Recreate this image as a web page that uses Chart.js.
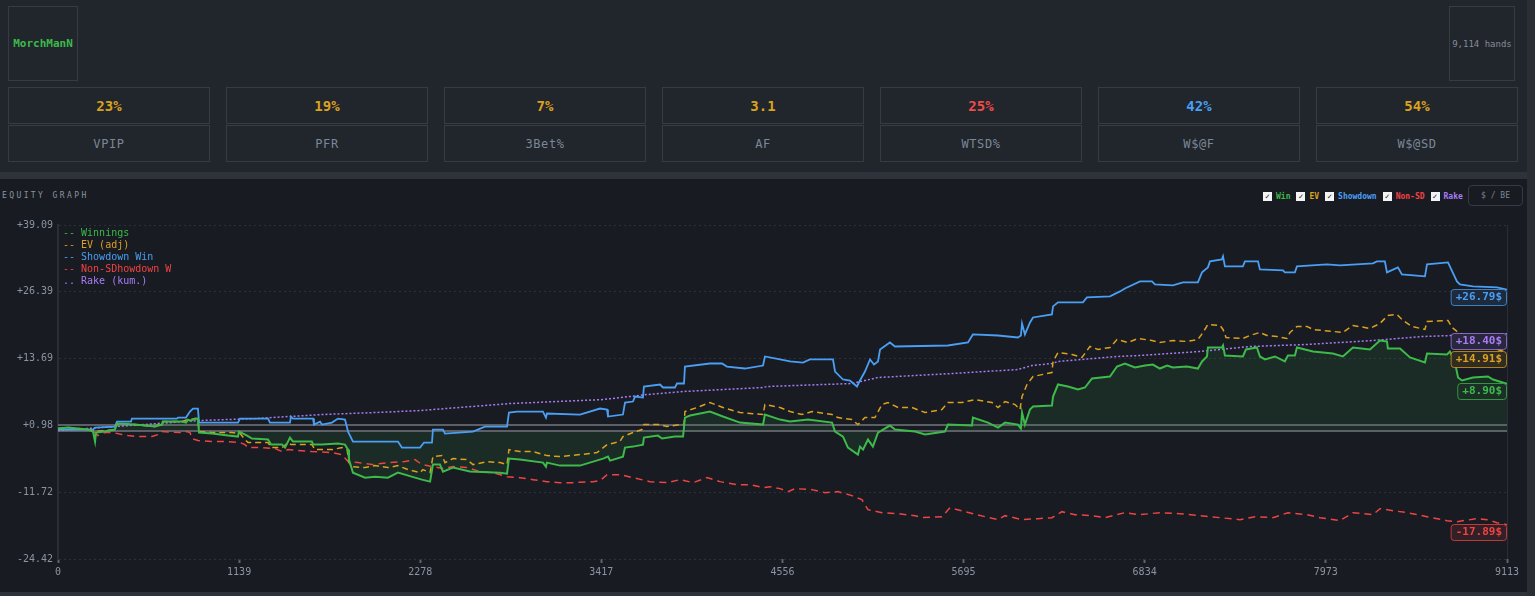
<!DOCTYPE html>
<html>
<head>
<meta charset="utf-8">
<script src="https://cdn.jsdelivr.net/npm/chart.js@4.4.1/dist/chart.umd.min.js"></script>
<style>
  html, body { margin:0; padding:0; }
  body { width:1535px; height:596px; background:#2a2e35; position:relative; overflow:hidden; font-family:"DejaVu Sans Mono", monospace; }
  #header { position:absolute; left:0; top:0; width:1527px; height:172px; background:#21252c; }
  #sep { position:absolute; left:0; top:172px; width:1527px; height:7px; background:#2e323a; }
  #panel { position:absolute; left:0; top:179px; width:1527px; height:413px; background:#181b21; }
  #bottom { position:absolute; left:0; top:592px; width:1527px; height:4px; background:#2e323a; }
  .box { position:absolute; box-sizing:border-box; border:1px solid #363b44; display:flex; align-items:center; justify-content:center; }
  #name { left:8px; top:6px; width:70px; height:75px; color:#3dba4a; font-size:11px; font-weight:bold; }
  #hands { left:1449px; top:6px; width:66px; height:75px; color:#858d98; font-size:9px; }
  .val { font-size:14px; font-weight:bold; }
  .lab { font-size:12px; color:#7b8796; letter-spacing:0.6px; }
  #title { position:absolute; left:2px; top:191px; font-size:8px; letter-spacing:2.4px; color:#8a93a0; }
  #checks { position:absolute; top:190px; left:1263px; height:12px; display:flex; align-items:center; font-size:8px; font-weight:bold; }
  .cb { display:inline-block; width:9px; height:9px; background:#f4f4f4; color:#111; font-size:8px; line-height:9px; text-align:center; margin-right:4px; }
  .cl { margin-right:6px; }
  #unit { position:absolute; left:1468px; top:185px; width:55px; height:21px; box-sizing:border-box; border:1px solid #353a43; border-radius:4px; color:#7d8591; font-size:8px; display:flex; align-items:center; justify-content:center; }
  #chartWrap { position:absolute; left:0; top:179px; width:1527px; height:413px; }
  #legend { position:absolute; left:63px; top:227px; font-size:10px; line-height:12px; white-space:pre; }
</style>
</head>
<body>
<div id="header"></div>
<div id="sep"></div>
<div id="panel"></div>
<div id="bottom"></div>
<div class="box" id="name">MorchManN</div>
<div class="box" id="hands">9,114 hands</div>
<div id="stats"></div>
<div id="title">EQUITY GRAPH</div>
<div id="checks"></div>
<div id="unit">$ / BE</div>
<div id="chartWrap"><canvas id="c"></canvas></div>
<div id="legend"></div>

<script>
// ---------- header stats ----------
const statLabels = ["VPIP", "PFR", "3Bet%", "AF", "WTSD%", "W$@F", "W$@SD"];
const statValues = ["23%", "19%", "7%", "3.1", "25%", "42%", "54%"];
const statColors = ["#dba11f", "#dba11f", "#dba11f", "#dba11f", "#ef4b4b", "#4a9ff5", "#dba11f"];

// ---------- series colours / names ----------
const seriesNames = ["Winnings", "EV (adj)", "Showdown Win", "Non-SDhowdown W", "Rake (kum.)"];
const seriesPrefix = ["--", "--", "--", "--", ".."];
const seriesColors = ["#3dba4a", "#dba11f", "#4a9ff5", "#ef4444", "#a77cf5"];
const checkLabels = ["Win", "EV", "Showdown", "Non-SD", "Rake"];

// ---------- axis ticks ----------
const xTicks = [0, 1139, 2278, 3417, 4556, 5695, 6834, 7973, 9113];
const yTicks = [-24.42, -11.72, 0.98, 13.69, 26.39, 39.09];
const refLineValues = [0, 0.98];

// ---------- data (hand number, $) ----------
const winHands = [0,63,189,220,233,239,296,358,371,484,610,654,660,780,805,818,836,862,880,887,968,1069,1132,1138,1189,1220,1321,1340,1409,1428,1459,1478,1597,1604,1660,1761,1805,1824,1830,1855,1931,1994,2075,2138,2245,2289,2340,2358,2402,2421,2484,2591,2780,2824,2836,2905,3050,3069,3075,3157,3283,3428,3459,3472,3553,3566,3616,3679,3685,3773,3799,3880,3931,3943,3975,4100,4182,4289,4434,4446,4541,4604,4717,4868,4887,4937,4968,5031,5044,5063,5094,5125,5157,5232,5264,5390,5453,5578,5597,5748,5754,5849,5912,5956,6037,6056,6063,6081,6113,6132,6251,6258,6289,6352,6415,6459,6503,6616,6660,6710,6773,6836,6886,6930,6975,7012,7100,7169,7195,7226,7232,7320,7327,7339,7452,7471,7540,7559,7591,7654,7716,7735,7779,7792,7893,8018,8081,8144,8251,8314,8358,8364,8440,8503,8597,8610,8736,8754,8786,8805,8830,8899,8993,9025,9113];
const winValues = [0.38,0.57,0.19,-0.19,-2.09,-0.38,-0.19,0.19,1.33,1.14,0.76,1.14,1.71,1.71,1.52,2.09,1.90,2.28,2.28,-0.38,-0.57,-0.95,-1.14,-0.19,-0.95,-1.52,-1.71,-2.67,-2.67,-3.24,-1.33,-2.09,-2.09,-2.67,-2.67,-2.47,-2.67,-3.62,-5.52,-8.00,-8.95,-8.76,-8.95,-8.00,-8.95,-9.33,-9.71,-6.47,-6.47,-7.80,-7.04,-7.80,-8.00,-8.19,-5.33,-5.52,-6.09,-6.85,-6.09,-6.66,-6.66,-5.33,-4.95,-5.71,-4.95,-3.24,-3.05,-2.67,-1.33,-0.95,-1.52,-1.14,-1.14,2.47,2.86,3.62,2.67,1.52,1.14,3.05,2.09,1.71,2.09,1.52,-0.19,-1.14,-3.24,-4.57,-3.05,-3.62,-1.71,-3.05,-0.38,0.95,0.19,-0.19,-0.76,-0.19,1.14,0.95,2.47,1.52,0.57,1.52,1.14,0.38,3.43,1.14,4.00,4.57,4.76,6.47,8.76,8.38,7.80,8.19,9.90,10.28,12.18,12.75,11.99,12.37,12.56,11.80,12.37,11.99,12.18,11.80,13.14,14.09,15.80,15.80,16.18,14.28,14.09,15.42,15.80,14.09,13.52,14.09,13.14,14.28,14.28,15.80,15.04,14.66,14.09,15.80,15.42,17.13,16.94,15.61,15.61,13.90,12.94,14.66,14.47,15.04,12.94,10.09,9.52,10.09,10.28,9.71,8.90];

const evHands = [0,63,189,233,358,371,484,610,660,780,818,880,887,968,1094,1145,1176,1195,1321,1340,1409,1447,1465,1597,1616,1723,1786,1818,1830,1849,1931,1994,2075,2138,2201,2277,2295,2340,2358,2415,2434,2484,2572,2610,2698,2780,2824,2836,2905,2987,3075,3157,3283,3390,3453,3534,3553,3616,3673,3685,3786,3830,3912,3937,3943,4019,4100,4182,4289,4434,4446,4541,4604,4679,4742,4868,4905,4993,5031,5075,5138,5182,5220,5283,5371,5453,5559,5597,5685,5767,5874,5912,5956,6019,6050,6063,6094,6132,6251,6258,6289,6377,6440,6490,6541,6616,6660,6729,6792,6880,6930,7012,7100,7169,7201,7232,7308,7327,7346,7452,7496,7559,7603,7666,7729,7748,7792,7855,7893,8018,8081,8144,8251,8314,8364,8421,8459,8515,8597,8610,8742,8767,8798,8899,9050,9113];
const evValues = [0.38,0.57,0.19,-0.20,0.19,1.33,1.14,0.76,1.71,1.71,2.09,2.28,-0.19,-0.38,-0.38,-0.57,-1.71,-2.28,-2.28,-3.24,-3.24,-2.28,-2.67,-2.67,-3.62,-3.62,-3.24,-3.62,-6.09,-6.85,-7.04,-6.66,-7.04,-6.66,-7.42,-8.00,-7.42,-8.00,-4.95,-4.76,-6.09,-5.33,-5.52,-6.47,-5.90,-6.09,-6.47,-3.62,-4.00,-4.00,-4.76,-4.95,-4.57,-4.19,-2.67,-2.09,-1.14,-0.38,0.19,1.14,1.14,0.76,1.14,1.14,3.62,4.38,5.33,4.38,3.43,3.05,4.95,4.38,3.62,3.05,3.62,3.05,2.47,2.09,1.14,2.47,2.47,4.95,5.33,4.38,4.38,3.43,4.00,5.33,5.33,5.90,5.33,4.38,5.52,4.95,4.00,6.47,8.76,10.28,11.04,13.14,14.85,14.47,13.90,15.99,15.42,15.80,17.32,16.75,17.51,17.13,16.75,17.13,16.94,17.32,18.66,20.18,19.99,19.23,17.70,17.51,18.08,18.66,18.08,17.89,17.51,18.66,19.80,19.80,19.23,18.85,18.66,19.99,19.42,20.37,21.89,22.08,20.94,19.80,19.23,20.75,20.94,19.61,18.85,17.32,15.42,14.91];

const sdHands = [0,220,233,358,371,459,465,748,755,805,830,849,880,887,1132,1145,1321,1333,1459,1465,1478,1604,1610,1648,1660,1723,1761,1805,1824,1855,2138,2163,2277,2302,2352,2358,2421,2434,2610,2685,2824,2836,2887,3050,3069,3075,3283,3409,3453,3459,3553,3566,3616,3629,3679,3685,3786,3805,3880,3893,3937,3943,4100,4176,4207,4320,4434,4446,4541,4604,4685,4729,4874,4887,4937,4981,5025,5037,5075,5107,5132,5157,5170,5232,5264,5597,5723,5754,5912,6037,6056,6063,6081,6113,6132,6251,6258,6289,6446,6471,6616,6679,6710,6805,6880,6899,7012,7075,7169,7195,7232,7245,7320,7327,7339,7452,7465,7547,7559,7704,7716,7779,7792,7981,8062,8270,8295,8345,8358,8427,8452,8597,8610,8742,8798,8817,8899,9050,9113];
const sdValues = [0.19,0.19,0.57,0.76,1.71,1.71,2.28,2.28,2.47,2.47,3.62,4.19,4.19,1.52,1.52,2.28,2.28,1.52,1.52,2.67,2.28,2.28,1.14,1.71,1.14,1.52,2.28,2.09,-0.19,-2.09,-2.09,-3.24,-3.24,-2.28,-2.28,0.19,0.19,-0.57,-0.19,0.76,0.76,3.43,3.62,3.62,2.47,3.24,3.05,4.19,4.00,2.67,3.05,5.33,5.52,6.47,6.28,8.38,8.76,8.19,8.19,8.95,8.95,12.18,12.75,12.75,12.18,11.80,12.37,14.09,13.52,13.14,12.94,13.52,13.52,11.23,9.71,9.52,8.38,9.14,11.23,13.52,12.56,13.14,15.42,16.75,15.99,16.18,16.75,18.28,18.08,17.70,18.08,20.37,18.28,20.56,21.51,22.08,23.61,24.37,24.37,25.32,25.51,26.46,27.03,28.36,28.36,27.79,27.60,28.17,28.17,30.08,31.03,32.17,32.55,33.12,31.22,31.22,32.17,32.17,30.65,30.46,30.08,30.08,31.22,31.60,31.41,31.79,32.17,32.17,30.08,31.03,29.70,29.32,31.60,31.98,28.36,27.79,27.41,27.22,26.79];

const nsdHands = [0,189,233,252,296,346,402,440,503,591,629,654,780,811,830,843,880,968,1069,1145,1176,1195,1283,1365,1409,1447,1597,1723,1786,1824,1887,1975,2075,2182,2245,2289,2421,2484,2572,2654,2736,2824,2905,2987,3075,3157,3239,3365,3409,3453,3534,3616,3723,3830,3912,3994,4082,4163,4270,4352,4434,4478,4541,4591,4635,4742,4824,4905,4993,5056,5094,5182,5283,5390,5434,5559,5610,5704,5830,5912,5956,6063,6163,6251,6314,6396,6503,6585,6710,6805,6930,7056,7182,7308,7434,7528,7641,7735,7855,7937,8062,8144,8270,8314,8396,8484,8610,8736,8798,8924,8987,9050,9113];
const nsdValues = [0.19,0.19,-0.38,-0.95,-0.38,-0.38,-0.76,-0.95,-1.14,-1.14,-0.76,-0.19,-0.38,-0.19,-0.38,-1.52,-1.90,-2.09,-2.09,-2.28,-2.67,-3.24,-3.24,-3.43,-4.00,-3.62,-4.00,-4.19,-4.57,-5.90,-6.09,-6.47,-6.09,-5.90,-5.52,-6.47,-7.23,-6.85,-7.04,-7.80,-8.00,-8.76,-8.95,-9.33,-9.71,-9.90,-9.90,-9.71,-9.52,-8.38,-8.38,-8.95,-9.71,-9.90,-9.33,-9.90,-8.95,-9.71,-10.28,-10.28,-10.85,-10.66,-11.04,-11.61,-11.04,-11.23,-11.80,-11.61,-12.37,-13.14,-15.04,-15.61,-15.80,-16.18,-16.56,-16.37,-14.66,-15.42,-16.37,-16.94,-16.18,-16.94,-16.75,-16.56,-15.42,-15.99,-16.18,-16.56,-15.61,-15.99,-15.61,-15.80,-16.18,-16.56,-16.94,-16.37,-16.56,-15.61,-15.99,-16.56,-17.13,-15.61,-15.99,-14.85,-15.23,-15.61,-16.37,-17.13,-17.32,-16.75,-16.94,-17.51,-17.89];

const rakeHands = [0,264,535,880,1239,1660,1994,2277,2843,3428,3704,3931,4434,4459,4993,5157,5622,6037,6125,6251,6289,6666,6805,7182,7496,7855,8270,8584,8773,9113];
const rakeValues = [0,0.57,1.14,1.90,2.28,3.05,3.43,3.81,5.14,5.90,6.85,7.42,8.19,8.38,8.95,10.09,10.85,11.61,12.37,12.75,13.14,14.09,14.28,15.04,15.99,16.37,17.13,17.89,18.08,18.40];

// ---------- build header ----------
const statsEl = document.getElementById('stats');
statLabels.forEach((lab, i) => {
  const left = 8 + i * 218;
  const v = document.createElement('div');
  v.className = 'box val';
  v.style.cssText = `left:${left}px;top:87px;width:202px;height:37px;color:${statColors[i]}`;
  v.textContent = statValues[i];
  statsEl.appendChild(v);
  const l = document.createElement('div');
  l.className = 'box lab';
  l.style.cssText = `left:${left}px;top:125px;width:202px;height:37px;`;
  l.textContent = lab;
  statsEl.appendChild(l);
});

const checksEl = document.getElementById('checks');
checkLabels.forEach((t, i) => {
  const b = document.createElement('span'); b.className = 'cb'; b.textContent = '\u2713';
  const s = document.createElement('span'); s.className = 'cl'; s.textContent = t; s.style.color = seriesColors[i];
  checksEl.appendChild(b); checksEl.appendChild(s);
});

const legendEl = document.getElementById('legend');
seriesNames.forEach((n, i) => {
  const d = document.createElement('div');
  d.style.color = seriesColors[i];
  d.textContent = seriesPrefix[i] + ' ' + n;
  legendEl.appendChild(d);
});

// ---------- chart ----------
const toPts = (h, v) => h.map((x, i) => ({ x: x, y: v[i] }));

const refLines = {
  id: 'refLines',
  beforeDatasetsDraw(chart) {
    const { ctx, chartArea, scales: { y } } = chart;
    ctx.save();
    ctx.strokeStyle = '#5b5f66';
    ctx.lineWidth = 2;
    refLineValues.forEach(v => {
      const py = Math.round(y.getPixelForValue(v));
      ctx.beginPath(); ctx.moveTo(chartArea.left, py); ctx.lineTo(chartArea.right, py); ctx.stroke();
    });
    ctx.strokeStyle = '#2a2e36';
    ctx.lineWidth = 1;
    ctx.beginPath(); ctx.moveTo(chartArea.right + 0.5, chartArea.top); ctx.lineTo(chartArea.right + 0.5, chartArea.bottom); ctx.stroke();
    ctx.restore();
  }
};

const endLabels = {
  id: 'endLabels',
  afterDatasetsDraw(chart) {
    const { ctx, chartArea, scales: { y } } = chart;
    ctx.save();
    ctx.font = 'bold 11px "DejaVu Sans Mono"';
    ctx.textBaseline = 'middle';
    chart.data.datasets.forEach((ds) => {
      const last = ds.data[ds.data.length - 1].y;
      const py = y.getPixelForValue(last);
      const text = (last >= 0 ? '+' : '') + last.toFixed(2) + '$';
      const w = ctx.measureText(text).width + 10;
      const h = 16;
      const x = chartArea.right - w;
      const top = Math.round(py) - 1;
      ctx.beginPath();
      ctx.roundRect(x + 0.5, top + 0.5, w - 1, h, 3);
      ctx.fillStyle = '#191c23';
      ctx.fill();
      ctx.globalAlpha = 0.12; ctx.fillStyle = ds.borderColor; ctx.fill(); ctx.globalAlpha = 1;
      ctx.strokeStyle = ds.borderColor; ctx.globalAlpha = 0.75; ctx.lineWidth = 1; ctx.stroke(); ctx.globalAlpha = 1;
      ctx.fillStyle = ds.borderColor;
      ctx.fillText(text, x + 5, top + h / 2 + 0.5);
    });
    ctx.restore();
  }
};

const tickFont = { family: '"DejaVu Sans Mono"', size: 10 };

new Chart(document.getElementById('c'), {
  type: 'line',
  data: {
    datasets: [
      { label: seriesNames[0], data: toPts(winHands, winValues), borderColor: seriesColors[0], borderWidth: 2,
        fill: 'origin', backgroundColor: 'rgba(61,186,74,0.10)' },
      { label: seriesNames[1], data: toPts(evHands, evValues), borderColor: seriesColors[1], borderWidth: 1.5, borderDash: [6, 4], fill: false },
      { label: seriesNames[2], data: toPts(sdHands, sdValues), borderColor: seriesColors[2], borderWidth: 1.8, fill: false },
      { label: seriesNames[3], data: toPts(nsdHands, nsdValues), borderColor: seriesColors[3], borderWidth: 1.5, borderDash: [7, 5], fill: false },
      { label: seriesNames[4], data: toPts(rakeHands, rakeValues), borderColor: seriesColors[4], borderWidth: 1.5, borderDash: [2, 2], fill: false }
    ]
  },
  options: {
    responsive: true,
    maintainAspectRatio: false,
    animation: false,
    layout: { padding: { top: 46, right: 20, left: 0, bottom: 0 } },
    elements: { point: { radius: 0, hoverRadius: 0 }, line: { tension: 0 } },
    plugins: {
      legend: { display: false },
      tooltip: { enabled: false },
      filler: { drawTime: 'beforeDatasetsDraw' }
    },
    scales: {
      x: {
        type: 'linear', min: 0, max: 9113,
        afterBuildTicks: (s) => { s.ticks = xTicks.map(v => ({ value: v })); },
        afterFit: (s) => { s.height = 33; },
        ticks: { color: '#8a94a3', font: tickFont, padding: 3, maxRotation: 0, autoSkip: false,
                 callback: (v) => String(v) },
        grid: { drawOnChartArea: false, drawTicks: true, tickLength: 4, tickColor: '#5d636c', tickWidth: 2 },
        border: { display: false }
      },
      y: {
        type: 'linear', min: -24.42, max: 39.09,
        afterBuildTicks: (s) => { s.ticks = yTicks.map(v => ({ value: v })); },
        afterFit: (s) => { s.width = 58; },
        ticks: { color: '#8a94a3', font: tickFont, padding: 5, autoSkip: false,
                 callback: (v) => (v > 0 ? '+' : '') + v.toFixed(2) },
        grid: { color: '#2b3039', lineWidth: 1, drawTicks: false },
        border: { display: true, color: '#2a2e36', width: 2, dash: [2, 3] }
      }
    }
  },
  plugins: [refLines, endLabels]
});
</script>
</body>
</html>
